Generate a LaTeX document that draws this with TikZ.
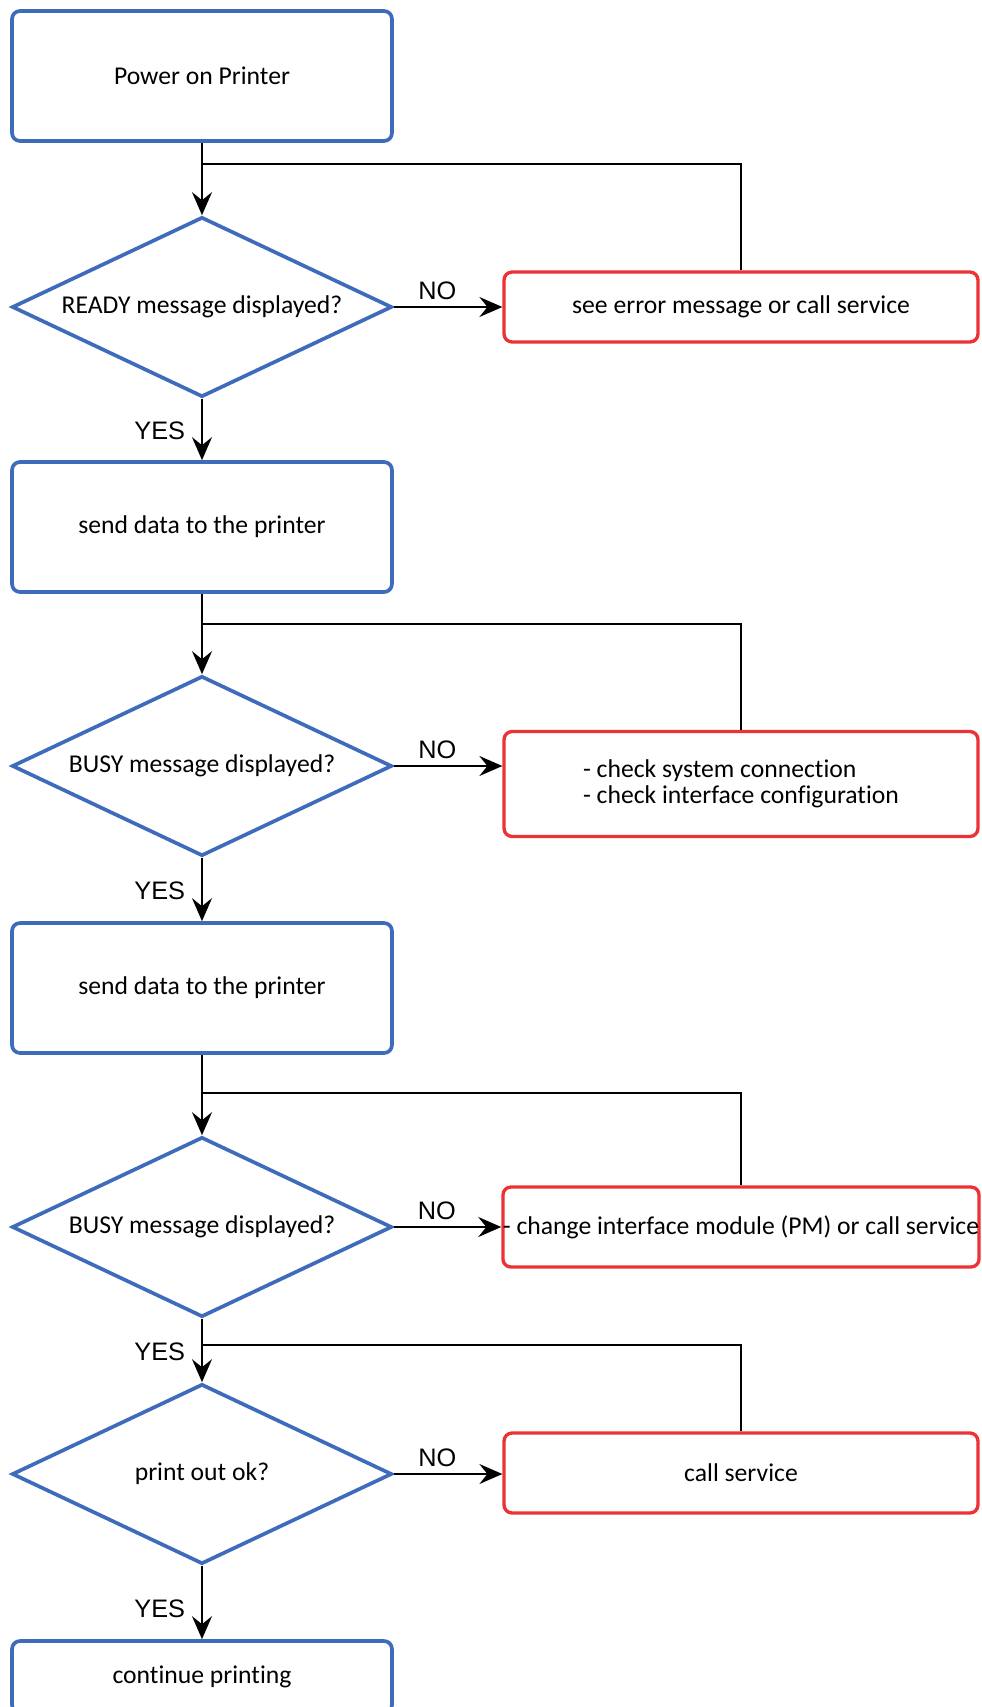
\documentclass[tikz,border=0pt]{standalone}
\usepackage{fontspec}
\setmainfont{Carlito}[Ligatures=NoCommon]
\newfontfamily\answerfont{Liberation Sans}
\usetikzlibrary{shapes.geometric,arrows.meta}
\definecolor{stepblue}{RGB}{62,107,186}
\definecolor{alertred}{RGB}{236,50,52}

\begin{document}
\begin{tikzpicture}[x=0.02cm, y=-0.02cm,
		every node/.style={font=\fontsize{14.6}{14.5}\selectfont, text=black},
		process/.style={draw=stepblue, line width=2.1pt, rounded corners=0.16cm, minimum width=7.6cm, minimum height=2.6cm, inner sep=0pt},
		decision/.style={draw=stepblue, line width=2.1pt, diamond, aspect=2, minimum width=7.6cm, minimum height=3.6cm, inner sep=0pt},
		fault/.style={draw=alertred, line width=1.9pt, rounded corners=0.16cm, minimum width=9.48cm, inner sep=0pt, align=left},
		flow/.style={line width=1.1pt, -{Stealth[length=0.46cm, width=0.4cm, inset=0.16cm]}},
		link/.style={line width=1pt},
		answer/.style={font=\answerfont\fontsize{14.4}{14}\selectfont, inner sep=0pt}]
		\useasboundingbox (0, 0) rectangle (982, 1707);

		% main column
		\node [process] (power) at (202, 76) {Power on Printer};
		\node [decision] (ready) at (202, 307) {READY message displayed?};
		\node [process] (send1) at (202, 527) {send data to the printer};
		\node [decision] (busy1) at (202, 766) {BUSY message displayed?};
		\node [process] (send2) at (202, 988) {send data to the printer};
		\node [decision] (busy2) at (202, 1227) {BUSY message displayed?};
		\node [decision] (check) at (202, 1474) {print out ok?};
		\node [process, minimum height=1.44cm] (done) at (202, 1677) {continue printing};

		% error branch
		\node [fault, minimum height=1.4cm] (err1) at (741, 307) {see error message or call service};
		\node [fault, minimum height=2.1cm] (err2) at (741, 784) {- check system connection\\- check interface configuration};
		\node [fault, minimum height=1.6cm] (err3) at (741, 1227) {- change interface module (PM) or call service};
		\node [fault, minimum height=1.6cm] (err4) at (741, 1473) {call service};

		% where the loops come back
		\coordinate (j1) at (202, 164);
		\coordinate (j2) at (202, 624);
		\coordinate (j3) at (202, 1093);
		\coordinate (j4) at (202, 1345);

		\draw [flow] (power) -- (ready);
		\draw [flow] (ready) -- node [answer, left=0.32cm, pos=0.52] {YES} (send1);
		\draw [flow] (send1) -- (busy1);
		\draw [flow] (busy1) -- node [answer, left=0.32cm, pos=0.52] {YES} (send2);
		\draw [flow] (send2) -- (busy2);
		\draw [flow] (busy2) -- node [answer, left=0.32cm, pos=0.52] {YES} (check);
		\draw [flow] (check) -- node [answer, left=0.32cm, pos=0.58] {YES} (done);

		\draw [flow] (ready) -- node [answer, above=0.12cm, pos=0.4] {NO} (err1);
		\draw [flow] (busy1.east) -- node [answer, above=0.12cm, pos=0.4] {NO} (busy1.east -| err2.west);
		\draw [flow] (busy2) -- node [answer, above=0.12cm, pos=0.4] {NO} (err3);
		\draw [flow] (check.east) -- node [answer, above=0.12cm, pos=0.4] {NO} (check.east -| err4.west);

		\draw [link] (err1.north) |- (j1);
		\draw [link] (err2.north) |- (j2);
		\draw [link] (err3.north) |- (j3);
		\draw [link] (err4.north) |- (j4);
	\end{tikzpicture}
\end{document}
